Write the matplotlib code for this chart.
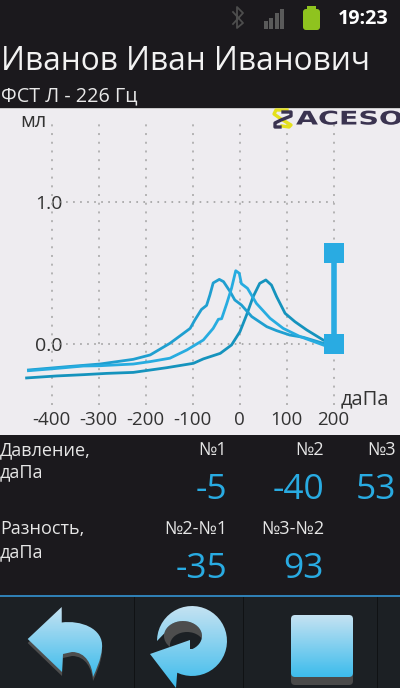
# -*- coding: utf-8 -*-
"""Tympanogram phone screen: three pressure curves with the app UI around them."""
import numpy as np
import matplotlib
matplotlib.use('Agg')
import matplotlib.pyplot as plt
from matplotlib.colors import LinearSegmentedColormap
from matplotlib.patches import Ellipse, FancyBboxPatch, PathPatch, Polygon, Rectangle
from matplotlib.path import Path
from matplotlib.patheffects import AbstractPathEffect
from matplotlib.transforms import Affine2D

plt.rcParams['font.family'] = ['Open Sans', 'DejaVu Sans']
plt.rcParams['axes.unicode_minus'] = False

# curve readings: pressure (daPa), volume (ml)
x_peak1 = [-449, -403, -332, -297, -226, -190, -148, -112, -77, -56, -45, -38, -27, -17, -8,
           -0.5, 4, 17, 36, 65, 93, 129, 178]
y_peak1 = [-.188, -.176, -.155, -.153, -.141, -.124, -.1, -.042, .028, .11, .174, .178, .286,
           .392, .516, .498, .425, .392, .286, .181, .11, .052, -.007]
x_peak2 = [-449, -368, -297, -226, -190, -148, -127, -105, -95, -81, -70, -63, -56, -43, -34,
           -20, -10, 4, 26, 58, 79, 107, 136, 178]
y_peak2 = [-.183, -.16, -.141, -.108, -.077, .005, .056, .11, .169, .243, .272, .345, .43,
           .455, .439, .369, .31, .275, .193, .122, .094, .063, .047, .005]
x_peak3 = [-453, -389, -332, -283, -226, -155, -98, -77, -41, -17, 1, 15, 29, 43, 56, 68, 79,
           97, 118, 143, 178]
y_peak3 = [-.239, -.225, -.216, -.207, -.2, -.167, -.136, -.105, -.066, -.007, .087, .204,
           .333, .427, .451, .415, .333, .216, .157, .099, .028]
cursor_x = 200
cursor_y = [0.0, 0.64]
x_ticks = [-400, -300, -200, -100, 0, 100, 200]
y_ticks = [0.0, 1.0]
y_tick_labels = ['0.0', '1.0']

pressure_heads = ['№1', '№2', '№3']
pressure_vals = ['-5', '-40', '53']
diff_heads = ['№2-№1', '№3-№2']
diff_vals = ['-35', '93']

BG = '#1b191d'
BLUE = '#29abe2'
PLOT_BG = '#eeecf0'


class StretchX(AbstractPathEffect):
    """Widen glyphs horizontally, the logo font is a very wide one."""

    def __init__(self, sx):
        super().__init__()
        self.sx = sx

    def draw_path(self, renderer, gc, tpath, affine, rgbFace=None):
        renderer.draw_path(gc, tpath, Affine2D().scale(self.sx, 1) + affine, rgbFace)


fig = plt.figure(figsize=(4, 6.88), dpi=100, facecolor=BG)

# Plot area, pixel rows 109-435
ax = fig.add_axes([0, 1 - 435 / 688, 1, 326 / 688], facecolor=PLOT_BG)
ax.set_xlim((0 - 239.5) / 0.47, (400 - 239.5) / 0.47)
ax.set_ylim((344 - 435) / 142, (344 - 109) / 142)
for s in ax.spines.values():
    s.set_visible(False)

ax.vlines(x_ticks, -0.43, 1.56, color='#a4a4a4', lw=1.1, linestyles=(0, (1.3, 4.4)))
ax.hlines(y_ticks, -400, 200, color='#9a9a9a', lw=1.1, linestyles=(0, (1.1, 3.5)))

ax.plot(x_peak3, y_peak3, color='#1593bd', lw=2.0, zorder=3)
ax.plot(x_peak2, y_peak2, color='#1f9fd0', lw=2.0, zorder=3)
ax.plot(x_peak1, y_peak1, color='#27ace0', lw=2.0, zorder=3)
ax.plot([cursor_x, cursor_x], cursor_y, color=BLUE, lw=4, marker='s', ms=14.9,
        mew=0, zorder=4)

ax.set_xticks(x_ticks)
ax.set_yticks(y_ticks)
ax.set_yticklabels(y_tick_labels)
ax.tick_params(axis='x', length=0, pad=-17, labelsize=13.5, labelcolor='#333333')
ax.tick_params(axis='y', length=0, pad=-45, labelsize=14, labelcolor='#333333')

# Screen layer in pixel coordinates
ui = fig.add_axes([0, 0, 1, 1], facecolor='none')
ui.set_xlim(0, 400)
ui.set_ylim(688, 0)
ui.axis('off')

ui.add_patch(Rectangle((0, 108), 400, 1.2, color='#c8c8c8', lw=0))

# Status bar
ui.text(389, 18.5, '19:23', color='white', fontsize=14.2, fontweight='bold', ha='right',
        va='center')
ui.add_patch(FancyBboxPatch((303, 9), 17, 21, boxstyle='round,pad=0,rounding_size=3',
                            color='#8fc31f', lw=0))
ui.add_patch(Rectangle((307, 6), 9, 3, color='#8fc31f', lw=0))
for bar_x, bar_top in zip([264, 269, 274.5, 280], [21, 18, 13, 9]):
    ui.add_patch(Rectangle((bar_x, bar_top), 4, 29 - bar_top, color='#5a5a5a', lw=0))
ui.plot([233, 243, 237, 237, 243, 233], [12, 23, 28, 7, 13, 24], color='#4d4d4d', lw=1.3)

# Header
ui.text(1, 61, 'Иванов Иван Иванович', color='#f2f2f2', fontsize=22.7, ha='left',
        va='center')
ui.text(1, 96, 'ФСТ Л - 226 Гц', color='#e8e8e8', fontsize=14.2, ha='left', va='center')

# Logo and axis names
ui.text(296, 119, 'ACESO', color='#3a3350', fontsize=13.5, fontweight='bold',
        family='DejaVu Sans', ha='left', va='center', path_effects=[StretchX(1.52)])
ui.plot([287, 276, 274, 281, 291, 289, 282], [110, 110, 114, 119, 125, 127, 126],
        color='#e4e01c', lw=2.4, zorder=3)
ui.plot([283, 291, 291, 281, 275, 275, 280], [112, 112, 116, 120, 123, 127, 127],
        color='#3a3350', lw=2.4, zorder=3)
ui.text(46, 122, 'мл', color='#333333', fontsize=14.5, ha='right', va='center')
ui.text(389, 399, 'даПа', color='#333333', fontsize=14.5, ha='right', va='center')

# Readings table
value_right = [227, 324, 396]
for head, val, xr in zip(pressure_heads, pressure_vals, value_right):
    ui.text(xr, 450, head, color='#e6e6e6', fontsize=13, ha='right', va='center')
    ui.text(xr, 490, val, color=BLUE, fontsize=25.5, ha='right', va='center')
for head, val, xr in zip(diff_heads, diff_vals, value_right):
    ui.text(xr, 529, head, color='#e6e6e6', fontsize=13, ha='right', va='center')
    ui.text(xr, 569, val, color=BLUE, fontsize=25.5, ha='right', va='center')
ui.text(0, 450, 'Давление,', color='#e6e6e6', fontsize=13, ha='left', va='center')
ui.text(0, 472, 'даПа', color='#e6e6e6', fontsize=13, ha='left', va='center')
ui.text(0, 529, 'Разность,', color='#e6e6e6', fontsize=13, ha='left', va='center')
ui.text(0, 552, 'даПа', color='#e6e6e6', fontsize=13, ha='left', va='center')

# Bottom buttons
ui.add_patch(Rectangle((0, 597), 400, 91, color='#1c2024', lw=0))
ui.add_patch(Rectangle((0, 594.5), 400, 2.6, color='#2f7fb4', lw=0))
for sep_x in [133.5, 243, 376.5]:
    ui.add_patch(Rectangle((sep_x, 597), 1, 91, color='#101214', lw=0))

grad = np.linspace(0, 1, 64).reshape(-1, 1)
cmap = LinearSegmentedColormap.from_list('btn', ['#c4e2f2', '#3dbcec'])


def gradient_shape(patch, top, bottom, left, right):
    patch.set_facecolor('none')
    patch.set_edgecolor('none')
    ui.add_patch(patch)
    im = ui.imshow(grad, cmap=cmap, extent=(left, right, bottom, top), aspect='auto',
                   zorder=3)
    im.set_clip_path(patch)


def back_path(dy=0):
    verts = [(27.7, 639), (61.7, 607), (61.7, 622.5),
             (80, 620), (104, 628), (102, 648),
             (101, 660), (96, 670), (93, 677),
             (92, 665), (86, 652), (72, 652),
             (63, 654), (62, 672), (27.7, 639)]
    codes = [Path.MOVETO, Path.LINETO, Path.LINETO,
             Path.CURVE4, Path.CURVE4, Path.CURVE4,
             Path.CURVE4, Path.CURVE4, Path.CURVE4,
             Path.CURVE4, Path.CURVE4, Path.CURVE4,
             Path.LINETO, Path.LINETO, Path.CLOSEPOLY]
    return Path([(vx, vy + dy) for vx, vy in verts], codes)


ui.add_patch(PathPatch(back_path(4), facecolor='#4d4d4d', edgecolor='none', zorder=2))
gradient_shape(PathPatch(back_path()), 607, 677, 27, 103)

# Refresh icon: outer arc, arrow head, inner arc back to the start
t_out = np.radians(np.linspace(180, -115, 40))
t_in = np.radians(np.linspace(-60, 170, 30))
outer = np.column_stack([192 + 35 * np.cos(t_out), 641 - 35 * np.sin(t_out)])
inner = np.column_stack([183 + 19 * np.cos(t_in), 636 - 15 * np.sin(t_in)])
head = np.array([(176, 688), (150, 654), (190, 640), (190, 649)])
refresh = np.vstack([outer, head, inner])
ui.add_patch(Ellipse((183, 636), 38, 30, color='#4d4d4d', lw=0, zorder=2))
ui.add_patch(Ellipse((187, 645), 34, 26, color='#1c2024', lw=0, zorder=2.1))
gradient_shape(Polygon(refresh), 606, 688, 150, 228)

ui.add_patch(FancyBboxPatch((291, 621), 62, 64, boxstyle='round,pad=0,rounding_size=4',
                            color='#4a4a4a', lw=0, zorder=2))
gradient_shape(FancyBboxPatch((291, 615), 62, 62, boxstyle='round,pad=0,rounding_size=4'),
               615, 677, 291, 353)

ui.set_xlim(0, 400)
ui.set_ylim(688, 0)
fig.savefig('out.png', dpi=100, facecolor=BG)
